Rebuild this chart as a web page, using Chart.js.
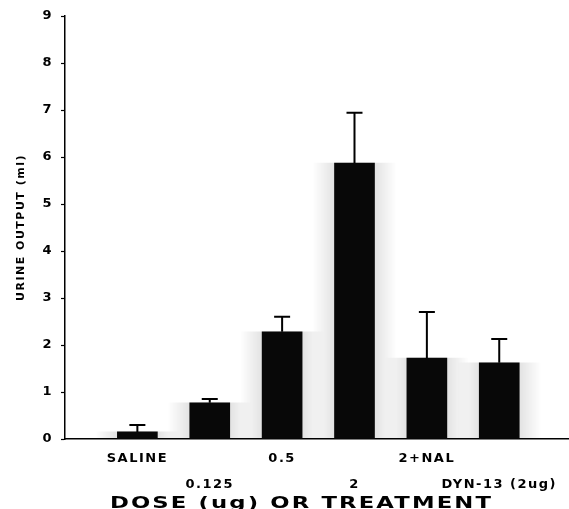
<!DOCTYPE html>
<html>
<head>
<meta charset="utf-8">
<script src="https://cdn.jsdelivr.net/npm/chart.js@4"></script>
<style>
    html, body { margin: 0; padding: 0; background: #fff; }
    #wrap { width: 569px; height: 509px; }
</style>
</head>
<body>
<div id="wrap"><canvas id="chart"></canvas></div>
<script>
// --- data ---
const categories = ['SALINE', '0.125', '0.5', '2', '2+NAL', 'DYN-13 (2ug)'];
const positions = [1, 2, 3, 4, 5, 6];
const means = [0.15, 0.77, 2.28, 5.87, 1.72, 1.62];
const sems = [0.15, 0.08, 0.32, 1.07, 0.98, 0.51];
const yTicks = [0, 1, 2, 3, 4, 5, 6, 7, 8, 9];
const xTitle = 'DOSE (ug) OR TREATMENT';
const yTitle = 'URINE OUTPUT (ml)';

const points = positions.map((p, i) => ({ x: p, y: means[i] }));
const FONT = "'DejaVu Sans', sans-serif";

// halftone-ish grey halo behind each bar
function haloColor(ctx) {
    const chart = ctx.chart;
    const xs = chart.scales.x;
    if (!xs || !ctx.raw) return 'rgba(0,0,0,0.12)';
    const cx = xs.getPixelForValue(ctx.raw.x);
    if (!isFinite(cx)) return 'rgba(0,0,0,0.12)';
    const g = chart.ctx.createLinearGradient(cx - 42, 0, cx + 42, 0);
    g.addColorStop(0, 'rgba(0,0,0,0)');
    g.addColorStop(0.3, 'rgba(0,0,0,0.13)');
    g.addColorStop(0.5, 'rgba(0,0,0,0.18)');
    g.addColorStop(0.7, 'rgba(0,0,0,0.13)');
    g.addColorStop(1, 'rgba(0,0,0,0)');
    return g;
}

// wide lettering, like the labels of the scan
const wideText = {
    id: 'wideText',
    beforeDraw(chart) { chart.ctx.letterSpacing = '1.5px'; },
    afterDraw(chart) { chart.ctx.letterSpacing = '0px'; }
};

const errorBars = {
    id: 'errorBars',
    afterDatasetsDraw(chart) {
        const { ctx, scales: { x, y } } = chart;
        ctx.save();
        ctx.strokeStyle = '#000';
        ctx.lineWidth = 2;
        means.forEach((m, i) => {
            const px = x.getPixelForValue(positions[i]);
            const top = y.getPixelForValue(m + sems[i]);
            const base = y.getPixelForValue(m);
            ctx.beginPath();
            ctx.moveTo(px, base);
            ctx.lineTo(px, top);
            ctx.moveTo(px - 8, top);
            ctx.lineTo(px + 8, top);
            ctx.stroke();
        });
        ctx.restore();
    }
};

// x axis title, stretched horizontally like the original
const bottomTitle = {
    id: 'bottomTitle',
    afterDraw(chart) {
        const { ctx, chartArea } = chart;
        const cx = (chartArea.left + chartArea.right) / 2 - 15;
        ctx.save();
        ctx.font = `bold 16px ${FONT}`;
        ctx.letterSpacing = '1.5px';
        ctx.fillStyle = '#000';
        ctx.textAlign = 'center';
        ctx.textBaseline = 'alphabetic';
        ctx.translate(cx, chart.height - 1);
        ctx.scale(1.42, 1);
        ctx.fillText(xTitle, 0, 0);
        ctx.restore();
    }
};

new Chart(document.getElementById('chart'), {
    type: 'bar',
    data: {
        datasets: [{
            data: points,
            backgroundColor: '#080808',
            barThickness: 40,
            order: 1
        }, {
            data: points,
            backgroundColor: haloColor,
            barThickness: 84,
            order: 2
        }]
    },
    options: {
        responsive: true,
        maintainAspectRatio: false,
        animation: false,
        layout: { padding: { top: 16, right: 1, left: 0, bottom: 0 } },
        plugins: { legend: { display: false }, tooltip: { enabled: false } },
        datasets: { bar: { grouped: false } },
        scales: {
            x: {
                type: 'linear',
                min: 0,
                max: 6.95,
                offset: false,
                afterFit: s => { s.height = 70; },
                afterBuildTicks: s => { s.ticks = positions.map(v => ({ value: v })); },
                ticks: {
                    color: '#000',
                    padding: -2,
                    maxRotation: 0,
                    autoSkip: false,
                    font: { family: FONT, weight: 'bold', size: 13, lineHeight: 2.05 },
                    callback: v => {
                        const i = positions.indexOf(v);
                        if (i < 0) return '';
                        return i % 2 === 0 ? [categories[i], ' '] : [' ', categories[i]];
                    }
                },
                grid: { display: false },
                border: { color: '#000', width: 1.5 }
            },
            y: {
                min: 0,
                max: 9,
                afterFit: s => { s.width = 65; },
                afterBuildTicks: s => { s.ticks = yTicks.map(v => ({ value: v })); },
                ticks: {
                    color: '#000',
                    padding: 8,
                    font: { family: FONT, weight: 'bold', size: 13 }
                },
                grid: { drawOnChartArea: false, tickLength: 4, color: '#000', tickWidth: 1.2 },
                border: { color: '#000', width: 1.5 },
                title: {
                    display: true,
                    text: yTitle,
                    color: '#000',
                    padding: { top: 15, bottom: 0 },
                    font: { family: FONT, weight: 'bold', size: 11 }
                }
            }
        }
    },
    plugins: [wideText, errorBars, bottomTitle]
});
</script>
</body>
</html>
